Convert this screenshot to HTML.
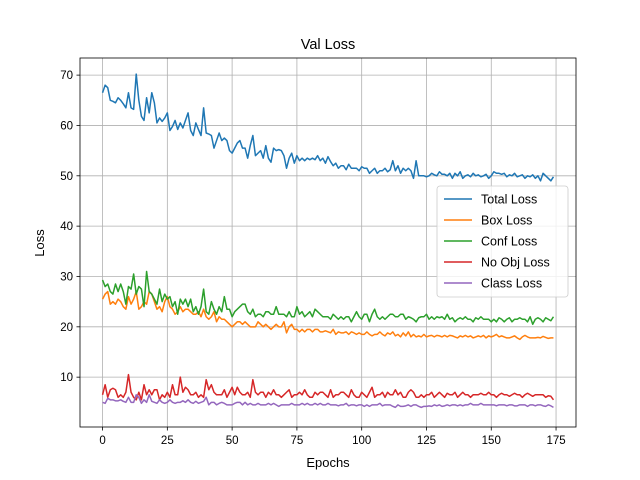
<!DOCTYPE html>
<html><head><meta charset="utf-8"><style>
body{margin:0;background:#fff}
svg{display:block;font-family:"Liberation Sans","DejaVu Sans",sans-serif}
</style></head><body>
<svg id="chart" width="640" height="480">
<rect width="640" height="480" fill="#fff"/>
<text x="328" y="49" text-anchor="middle" font-size="14.5">Val Loss</text>
<g id="grid"></g><g id="series"></g><g id="axes"></g>
<text x="328" y="467" text-anchor="middle" font-size="13">Epochs</text>
<text x="0" y="0" transform="translate(44,243) rotate(-90)" text-anchor="middle" font-size="13">Loss</text>
<g id="legend"></g>
</svg>
<script>
const seriesNames=["Total Loss","Box Loss","Conf Loss","No Obj Loss","Class Loss"];
const colors=["#1f77b4","#ff7f0e","#2ca02c","#d62728","#9467bd"];
const xTicks=[0,25,50,75,100,125,150,175];
const yTicks=[10,20,30,40,50,60,70];
const totalLoss=[66.5,68,67.5,65,64.8,64.5,65.5,65,64.3,63.5,66.5,63.5,63.2,70.2,65,61.8,61,65.5,62.5,66.5,64.5,60.5,61.5,60.8,61.5,62.5,59,59.8,61,59.2,60.5,59.5,61,62.5,59,58,60.5,59.2,58,63.5,58.5,58.3,58,55.5,57,58.5,57,57.5,57,55,54.5,55.5,56.5,57,55.5,55.5,53.5,56,58,54,54.5,55,53.5,56,53.5,52.7,55.5,55,55.2,55,54,51.5,53.5,54.5,52.5,54,53,53.5,53,53.5,53.2,53.5,53.2,54,53,53.5,52.5,53.8,52.8,52,52.5,51.5,52,52,51.2,52.3,51.5,51.5,51.5,51,51.8,51.5,51.5,50.5,51,51.5,50.5,51,51,51.5,50.8,51.2,53,51,52,50.5,51.5,51,51.5,51,49.5,53,50,50,50,49.8,50,50.5,50.2,50,50.8,50.3,50.3,50,50.5,49.5,50.5,50,50.8,49.5,50,50.2,49.8,50.5,50,50.2,49.8,50,50.3,49.5,50,50.8,50.5,50.5,50.3,50.5,49.8,50.2,50,50.5,49.8,50,50.2,49.5,50,49.8,50.2,49.5,50,49,50.5,50,49.5,49,49.8];
const boxLoss=[25.5,26.5,27,24.5,25,24.5,25.5,25,24,23.5,26,24.5,25.5,27,23.5,24,25,24.5,27,26.5,25,23.5,24,23,25,26,24,23.5,22.5,23,24,23,23.5,23.5,23,22.5,22.5,23,22,23.5,22,21.5,22,23,21,22,21.5,21.5,21,20.5,20,20.5,21,21,20.5,21,20.5,20,20,20,21,20.5,20,20.5,20,19.5,20,20.5,20,20,21,18.8,20,20.5,19.5,19.5,19,19.5,19,19.5,19.5,19,19.5,19.5,19,19,19.2,19,18.8,19.5,18.5,19,18.8,18.8,19,18.5,19,18.8,18.5,18.8,18.5,18.5,19,18.5,18.2,18.5,18.5,19,18.5,18.2,18.8,18.5,19,18.2,18.5,18,18.8,18.2,19,18,18.5,18,18.2,18,18.5,18,18.2,18.3,18,18.3,18.2,18,18.3,18,18.3,18.2,18,17.8,18.2,18,18.3,18,18.2,17.8,18,18.2,18,18.3,17.8,18.2,18,18.2,18.5,18,18.2,18,17.8,17.8,18,18.2,17.8,17.5,18,18.3,18,17.8,17.8,17.8,17.9,17.8,18.1,17.9,17.7,17.8,17.8];
const confLoss=[29.3,28,28.5,27,26.5,28.5,27,28.5,27,24.5,28,27.5,30.5,26.5,28,27.5,24,31,27,26.5,25.5,24.5,27.5,25,26.5,25.5,26,24,25,22.5,25.5,24.5,25.5,24,25.5,23,24,22.5,24,27.5,23,22.5,25,23.5,22.5,24,23,26,23.5,23.5,22,23,23.5,24,24.5,24.5,23,22.5,23.5,22,22.5,22.5,22,23,23,22.5,22.5,24,22.5,22.5,22.5,22,23,22,22,24,22.5,23,22,22.5,23,22,23.5,23,22.5,22,22,22,21.5,22.5,22,21.5,22,21.5,22,22,21,22,23,22,21.5,22.5,22.5,21,22.5,23.5,22,21.5,22,21.5,22,22.5,22.5,22,22,22.5,22.5,21.5,22,21.8,21.5,21,21.8,22,22,22.5,21.5,22,21.5,22,21.8,22,21.5,22.5,21.5,21.8,21,21.5,21.8,21.5,22,21.5,21.5,21,21.8,21.5,22,21.5,21.5,21.5,21,21.5,21,21.8,21.5,21,21.5,21.8,21,21.5,21.5,21.8,21.5,21.5,21,22,20.5,21.5,21.8,21.5,21,21.8,21.5,21.2,22];
const noObjLoss=[6.5,8.5,6,7.5,7.8,7.5,6,6.5,6,7,10.5,7,6,5.5,7,5.5,8.5,6.5,7.5,6.5,7.5,7.5,5.5,6.5,6,7,6,8.5,6.5,6.5,10,7,8,7.5,6.5,6.5,7,6,6.5,6,9.5,7.5,8.5,7,6.5,6.5,6.5,7.5,6,7,8,6.5,8,7,6.5,6.5,7,6,9.5,7,6.5,7,7,6,7,6.5,7.5,6.5,6.5,6,6.5,7,7.5,6,6.5,6.5,7,6.5,7.5,6.5,6,6,7,6.5,7,7,6.5,6,7.5,6,6.5,6.5,7,7,6.5,6,7.5,6.5,6,6,7,6.5,6,7,8,6,6.5,6.5,7,6,7,6.5,6.5,7.5,6.5,7,6,6,7,7.5,7,6,6,6.5,6,6.5,6.5,7,6,6.5,7,6.5,6,6.8,6.5,6.5,7,6,6.5,7,6.5,6.5,6,6.5,6.5,6.5,6.8,6.5,6.5,7,6.5,6.5,6,6.5,6.8,6.5,6.5,6.2,6.5,6.8,6.5,6.5,6,6.5,6.8,6.5,6.2,6.5,6.5,6.5,6.5,6,6.3,6.2,5.5];
const classLoss=[5,4.8,5.8,5.5,5.5,5.3,5.3,5.5,5.2,5,6,5,5,6.5,6,4.8,5.5,5,6.5,5.2,5,4.8,5.5,5,4.8,5,5.5,5,4.8,5,5,5.3,5,5.5,5,4.8,5.2,4.8,5,5.2,6,4.5,5,5,4.5,4.8,5,4.8,4.5,4.5,4.5,4.8,5,5,4.5,5,4.5,4.8,4.5,4.5,4.8,4.5,4.5,4.5,4.8,4.5,4.8,4.5,4.2,4.5,4.5,4.5,4.5,4.8,4.5,4.5,4.5,4.8,4.5,4.8,4.5,4.5,4.8,4.5,4.8,4.5,4.5,4.8,4.5,4.5,4.5,4.3,4.5,4.5,4.8,4.3,4.5,4.5,4.3,4.5,4.5,4.2,4.5,4.2,4.5,4.5,4.5,4.8,4.3,4.5,4.5,4.5,4.2,4,4.5,4.2,4.2,4.3,4.5,4.2,4.5,4.5,4.2,4,4.2,4.2,4.3,4.2,4.5,4.3,4.5,4.2,4.3,4.5,4.3,4.5,4.5,4.3,4.5,4.3,4.5,4.5,4.8,4.5,4.5,4.5,4.8,4.5,4.5,4.5,4.5,4.5,4.3,4.5,4.5,4.5,4.3,4.5,4.5,4.3,4.3,4.5,4.5,4.5,4.2,4.5,4.5,4.3,4.5,4.5,4.3,4.2,4.5,4.3,4.0];
const allSeries=[totalLoss,boxLoss,confLoss,noObjLoss,classLoss];

const L=80,R=576,T=58,B=427;
const xMin=-8.7,xMax=182.7,yMin=0.1,yMax=73.4;
const sx=v=>L+(v-xMin)/(xMax-xMin)*(R-L);
const sy=v=>B-(v-yMin)/(yMax-yMin)*(B-T);
const NS="http://www.w3.org/2000/svg";
function mk(tag,attrs,parent){const e=document.createElementNS(NS,tag);for(const k in attrs)e.setAttribute(k,attrs[k]);parent.appendChild(e);return e;}
const grid=document.getElementById('grid'),axes=document.getElementById('axes'),ser=document.getElementById('series'),leg=document.getElementById('legend');

xTicks.forEach(t=>{const x=sx(t);
 const g=mk('line',{x1:x,x2:x,y1:T,y2:B,stroke:'#b0b0b0','stroke-width':0.8},grid);
 
 
 const tk=mk('line',{x1:x,x2:x,y1:B,y2:B+3.5,stroke:'#000','stroke-width':0.8},axes);
 
 
 const tx=mk('text',{x:x,y:B+17,'text-anchor':'middle','font-size':'11.5'},axes);tx.textContent=t;
 
 
});
yTicks.forEach(t=>{const y=sy(t);
 const g=mk('line',{x1:L,x2:R,y1:y,y2:y,stroke:'#b0b0b0','stroke-width':0.8},grid);
 
 
 const tk=mk('line',{x1:L-3.5,x2:L,y1:y,y2:y,stroke:'#000','stroke-width':0.8},axes);
 
 
 const tx=mk('text',{x:L-7,y:y+4,'text-anchor':'end','font-size':'11.5'},axes);tx.textContent=t;
 
 
});
const frame=mk('rect',{x:L,y:T,width:R-L,height:B-T,fill:'none',stroke:'#000','stroke-width':0.8},axes);



allSeries.forEach((arr,i)=>{
 const d=arr.map((v,j)=>(j?'L':'M')+sx(j).toFixed(2)+' '+sy(v).toFixed(2)).join(' ');
 const p=mk('path',{d:d,fill:'none',stroke:colors[i],'stroke-width':1.5,'stroke-linejoin':'round'},ser);
 
 
});

const lb=mk('rect',{x:437,y:186,width:131,height:111,rx:3,fill:'#fff','fill-opacity':0.8,stroke:'#ccc','stroke-width':0.8},leg);


seriesNames.forEach((n,i)=>{const y=199+i*21;
 const ln=mk('line',{x1:444,x2:472,y1:y,y2:y,stroke:colors[i],'stroke-width':1.5},leg);
 
 
 const tx=mk('text',{x:481,y:y+4.5,'font-size':'12.5'},leg);tx.textContent=n;
 
 
});
</script>
</body></html>
